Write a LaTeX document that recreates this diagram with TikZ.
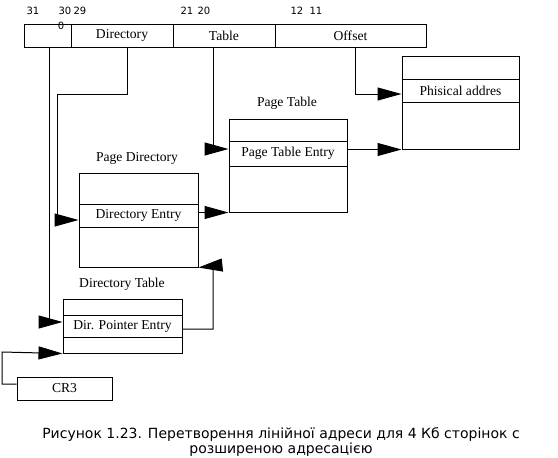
\documentclass[tikz,border=0pt]{standalone}
\usepackage{fontspec}
\setmainfont{Liberation Serif}
\newfontfamily\capfont{DejaVu Sans}
\usetikzlibrary{arrows.meta,calc}
\tikzset{
  cellbox/.style={draw, line width=1pt, inner sep=0pt, minimum height=23pt, font=\fontsize{13.6}{15}\selectfont},
  part/.style={draw, line width=1pt, inner sep=0pt, font=\fontsize{13.6}{15}\selectfont},
  bitnum/.style={inner sep=0pt, font=\capfont\fontsize{10}{12}\selectfont},
  boxtitle/.style={inner sep=0pt, font=\fontsize{13.6}{15}\selectfont},
  arr/.style={line width=1pt, -{Triangle[length=24pt,width=13pt]}},
  wire/.style={line width=1pt}
}
\begin{document}
\begin{tikzpicture}[x=1pt,y=-1pt]
\useasboundingbox (0,0) rectangle (558,458);
\fill[white] (0,0) rectangle (558,458);
% linear address bar
\node[cellbox, minimum width=47pt] (c0) at (47.5,35.5) {};
\node[cellbox, minimum width=102pt] (cdir) at (122,35.5) {Directory};
\node[cellbox, minimum width=102pt] (ctab) at (224,35.5) {Table};
\node[cellbox, minimum width=151pt] (coff) at (350.5,35.5) {Offset};
% bit numbers
\node[bitnum] (b31) at (33,11) {31};
\node[bitnum] (b30) at (65,11) {30};
\node[bitnum] (b29) at (80,11) {29};
\node[bitnum] (b0) at (61,25.5) {0};
\node[bitnum] (b21) at (187,11) {21};
\node[bitnum] (b20) at (204,11) {20};
\node[bitnum] (b12) at (297,11) {12};
\node[bitnum] (b11) at (316,11) {11};
% Physical page
\node[part, minimum width=117pt, minimum height=23pt] (phtop) at (460.5,67.5) {};
\node[part, minimum width=117pt, minimum height=23pt] (phentry) at (460.5,90.5) {Phisical addres};
\node[part, minimum width=117pt, minimum height=47pt] (phbot) at (460.5,125.5) {};
% Page Table
\node[boxtitle] (pttitle) at (287,103) {Page Table};
\node[part, minimum width=118pt, minimum height=22pt] (pttop) at (288,130) {};
\node[part, minimum width=118pt, minimum height=25pt] (ptentry) at (288,153.5) {Page Table Entry};
\node[part, minimum width=118pt, minimum height=46pt] (ptbot) at (288,189) {};
% Page Directory
\node[boxtitle] (pdtitle) at (137,158) {Page Directory};
\node[part, minimum width=119pt, minimum height=31pt] (pdtop) at (138.5,188.5) {};
\node[part, minimum width=119pt, minimum height=23pt] (pdentry) at (138.5,215.5) {Directory Entry};
\node[part, minimum width=119pt, minimum height=40pt] (pdbot) at (138.5,247) {};
% Directory Table
\node[boxtitle] (dttitle) at (122,284) {Directory Table};
\node[part, minimum width=119pt, minimum height=16pt] (dttop) at (122.5,307) {};
\node[part, minimum width=119pt, minimum height=22pt] (dtentry) at (122.5,326) {Dir. Pointer Entry};
\node[part, minimum width=119pt, minimum height=16pt] (dtbot) at (122.5,345) {};
% CR3
\node[part, minimum width=95pt, minimum height=23pt] (cr3) at (64.5,388.5) {CR3};
% bend points
\coordinate (k1) at (57,94);
\coordinate (k2) at (213,266);
\coordinate (k3) at (2,352);
% connectors
\draw[arr] ([xshift=1.5pt]c0.south) |- ([yshift=4pt]dtentry.west);
\draw[arr] ([xshift=5pt]cdir.south) |- (k1) |- ([yshift=-4.5pt]pdentry.west);
\draw[arr] ([xshift=-11pt]ctab.south) |- ([yshift=4.5pt]ptentry.west);
\draw[arr] ([xshift=4.5pt]coff.south) |- ([yshift=-3.5pt]phentry.west);
\draw[arr] (pdentry.east |- ptbot.south west) -- (ptbot.south west);
\draw[arr] (ptentry.east |- phbot.south west) -- (phbot.south west);
\draw[arr] ([yshift=-3pt]dtentry.east) -| (k2) -- (pdbot.south east);
\draw[arr] ([yshift=4.5pt]cr3.west) -| (k3) -- (dtbot.south west);
% caption
\node[inner sep=0pt, align=center, font=\capfont\fontsize{14}{15}\selectfont] (cap) at (281,442.5)
  {Рисунок 1.23. Перетворення лінійної адреси для 4 Кб сторінок с\\розширеною адресацією};
\end{tikzpicture}
\end{document}
